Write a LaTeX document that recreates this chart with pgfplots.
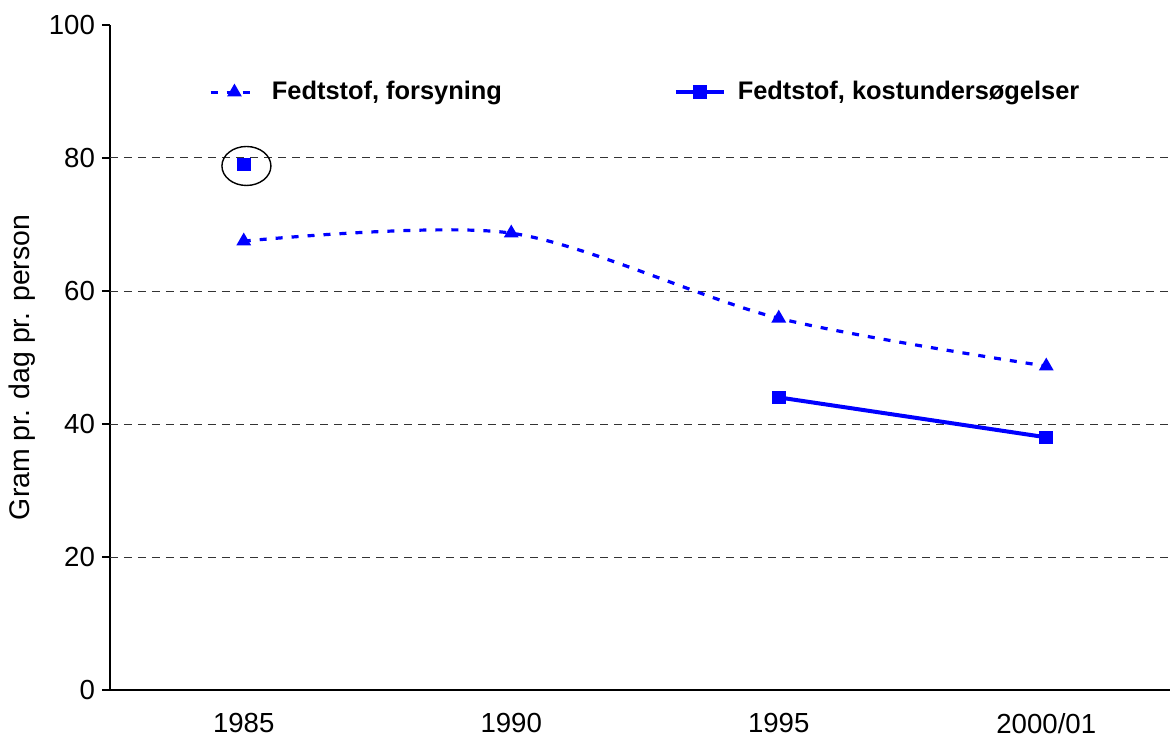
\documentclass[border=0pt]{standalone}
\usepackage{fontspec}
\setmainfont{Liberation Sans}
\usepackage{pgfplots}
\pgfplotsset{compat=1.18}
\definecolor{exblue}{RGB}{0,0,255}
\begin{document}
\begin{tikzpicture}
\begin{axis}[
  scale only axis,
  width=535pt, height=332.5pt,
  xmin=-0.5, xmax=3.5, ymin=0, ymax=100,
  axis lines*=left,
  axis line style={line width=0.6pt},
  /pgf/number format/assume math mode=true,
  tick label style={font=\fontsize{13.8pt}{15pt}\selectfont},
  ytick={0,20,40,60,80,100},
  ytick align=outside, major tick length=4pt,
  tick style={black, line width=0.6pt},
  xtick={0,1,2,3},
  xticklabels={1985,1990,1995,2000/01},
  x tick style={draw=none},
  xticklabel style={yshift=-8pt},
  extra x ticks={-0.5,0.5,1.5,2.5,3.5},
  extra x tick labels={},
  extra x tick style={tick style={draw=black, line width=0.6pt}, tick align=outside, major tick length=5pt},
  extra y ticks={20,40,60,80},
  extra y tick labels={},
  extra y tick style={grid=major, tick style={draw=none}},
  grid style={black!80, dash pattern=on 4pt off 3pt, line width=0.5pt},
  ylabel={Gram pr. dag pr. person},
  ylabel style={font=\fontsize{14.2pt}{16pt}\selectfont, at={(axis description cs:-0.0822,0.485)}, anchor=center},
  legend style={at={(axis cs:-0.154,89.9)}, anchor=west, draw=none, fill=none,
    font=\bfseries\fontsize{12.7pt}{14pt}\selectfont, legend columns=2,
    /tikz/every odd column/.append style={column sep=4pt},
    /tikz/every even column/.append style={column sep=84pt}},
  legend image code/.code={\draw[mark repeat=2,mark phase=2] plot coordinates {(0cm,0cm)(0.42cm,0cm)(0.84cm,0cm)};},
  unbounded coords=jump,
  clip=false,
]
\addplot[exblue, line width=1.6pt, dash pattern=on 3.5pt off 4.5pt, smooth,
  mark=triangle*, mark size=2.7pt, mark options={solid}]
  coordinates {(0,67.5) (1,68.7) (2,55.9) (3,48.7)};
\addlegendentry{Fedtstof, forsyning}
\addplot[exblue, line width=2pt, mark=square*, mark size=2.4pt, mark options={solid}]
  coordinates {(0,79) (1,nan) (2,44) (3,38)};
\addlegendentry{Fedtstof, kostundersøgelser}
\draw[black, line width=0.7pt] (axis cs:0.01,78.8) ellipse [x radius=12.25pt, y radius=9.75pt];
\end{axis}
\pgfresetboundingbox
\path (current axis.south west) ++(-55pt,-25pt) coordinate (bl);
\path (current axis.south west) ++(530pt,345pt) coordinate (tr);
\path[use as bounding box] (bl) rectangle (tr);
\end{tikzpicture}
\end{document}
